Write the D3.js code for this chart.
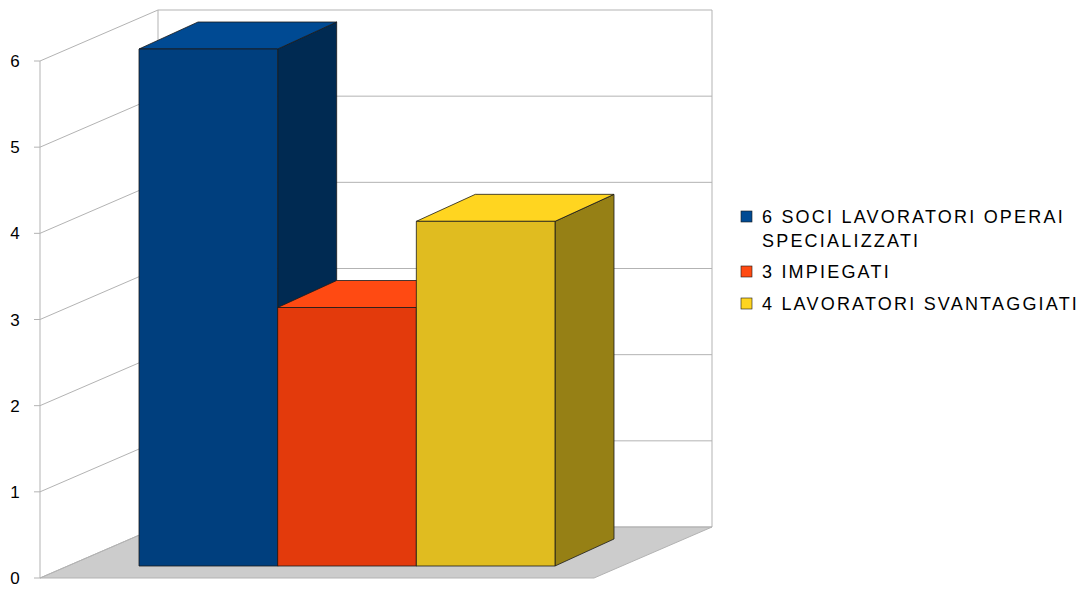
<!DOCTYPE html>
<html><head><meta charset="utf-8">
<script src="https://cdn.jsdelivr.net/npm/d3@7"></script>
<style>body{margin:0;background:#fff}text{font-family:"Liberation Sans",Arial,sans-serif}</style>
</head><body><svg id="c" width="1088" height="590"></svg>
<script>
const categories = ["6 SOCI LAVORATORI OPERAI SPECIALIZZATI", "3 IMPIEGATI", "4 LAVORATORI SVANTAGGIATI"];
const values = [6, 3, 4];
const yTicks = [0, 1, 2, 3, 4, 5, 6];
const frontColors = ["#003f7e", "#e33a0c", "#e0bc20"];
const topColors = ["#004a93", "#ff4a12", "#ffd520"];
const sideColors = ["#002a52", "#a02808", "#968015"];

const svg = d3.select("#c");
// full depth offset of the chart box
const DX = 118, DY = -51;
const yWall = d3.scaleLinear().domain([0, 6]).range([578, 61]);
const yBar = d3.scaleLinear().domain([0, 6]).range([566, 49]);
const x = d3.scaleBand().domain(categories).range([139, 555]).padding(0);
const bdx = 59, bdy = -27;

// floor
svg.append("polygon")
  .attr("points", [[40,578],[40+DX,578+DY],[712,578+DY],[594,578]].map(p=>p.join(",")).join(" "))
  .attr("fill", "#cccccc").attr("stroke", "#b3b3b3");

// walls grid
yTicks.forEach(t => {
  const y = yWall(t);
  svg.append("line").attr("x1", 40).attr("y1", y).attr("x2", 40+DX).attr("y2", y+DY).attr("stroke", "#b3b3b3");
  svg.append("line").attr("x1", 40+DX).attr("y1", y+DY).attr("x2", 712).attr("y2", y+DY).attr("stroke", "#b3b3b3");
  svg.append("line").attr("x1", 34).attr("y1", y).attr("x2", 40).attr("y2", y).attr("stroke", "#b3b3b3");
  svg.append("text").attr("x", 15).attr("y", y+6).attr("text-anchor", "middle")
    .attr("font-size", 17).attr("fill", "#000").text(t);
});
svg.append("line").attr("x1", 40).attr("y1", yWall(0)).attr("x2", 40).attr("y2", yWall(6)).attr("stroke", "#b3b3b3");
svg.append("line").attr("x1", 40+DX).attr("y1", yWall(0)+DY).attr("x2", 40+DX).attr("y2", yWall(6)+DY).attr("stroke", "#b3b3b3");
svg.append("line").attr("x1", 712).attr("y1", yWall(0)+DY).attr("x2", 712).attr("y2", yWall(6)+DY).attr("stroke", "#b3b3b3");

// bars, left to right so each bar covers the side of the previous one
const pts = a => a.map(p => p.join(",")).join(" ");
categories.forEach((c, i) => {
  const x0 = x(c), x1 = x(c) + x.bandwidth();
  const y0 = yBar(0), y1 = yBar(values[i]);
  const g = svg.append("g").attr("stroke", "#1a1a1a").attr("stroke-width", 0.8).attr("stroke-linejoin", "round");
  g.append("polygon").attr("points", pts([[x1,y1],[x1+bdx,y1+bdy],[x1+bdx,y0+bdy],[x1,y0]])).attr("fill", sideColors[i]);
  g.append("polygon").attr("points", pts([[x0,y1],[x0+bdx,y1+bdy],[x1+bdx,y1+bdy],[x1,y1]])).attr("fill", topColors[i]);
  g.append("rect").attr("x", x0).attr("y", y1).attr("width", x1-x0).attr("height", y0-y1).attr("fill", frontColors[i]);
});

// legend
const legend = [["6 SOCI LAVORATORI OPERAI", "SPECIALIZZATI"], [categories[1]], [categories[2]]];
const legY = [223, 278, 310];
legend.forEach((lines, i) => {
  svg.append("rect").attr("x", 741).attr("y", legY[i]-12).attr("width", 11).attr("height", 11)
    .attr("fill", topColors[i]).attr("stroke", "#1a1a1a").attr("stroke-width", 0.6);
  lines.forEach((l, j) => svg.append("text").attr("x", 762).attr("y", legY[i]+j*24)
    .attr("font-size", 18).attr("letter-spacing", 2.2).attr("fill", "#000").text(l));
});
</script></body></html>
